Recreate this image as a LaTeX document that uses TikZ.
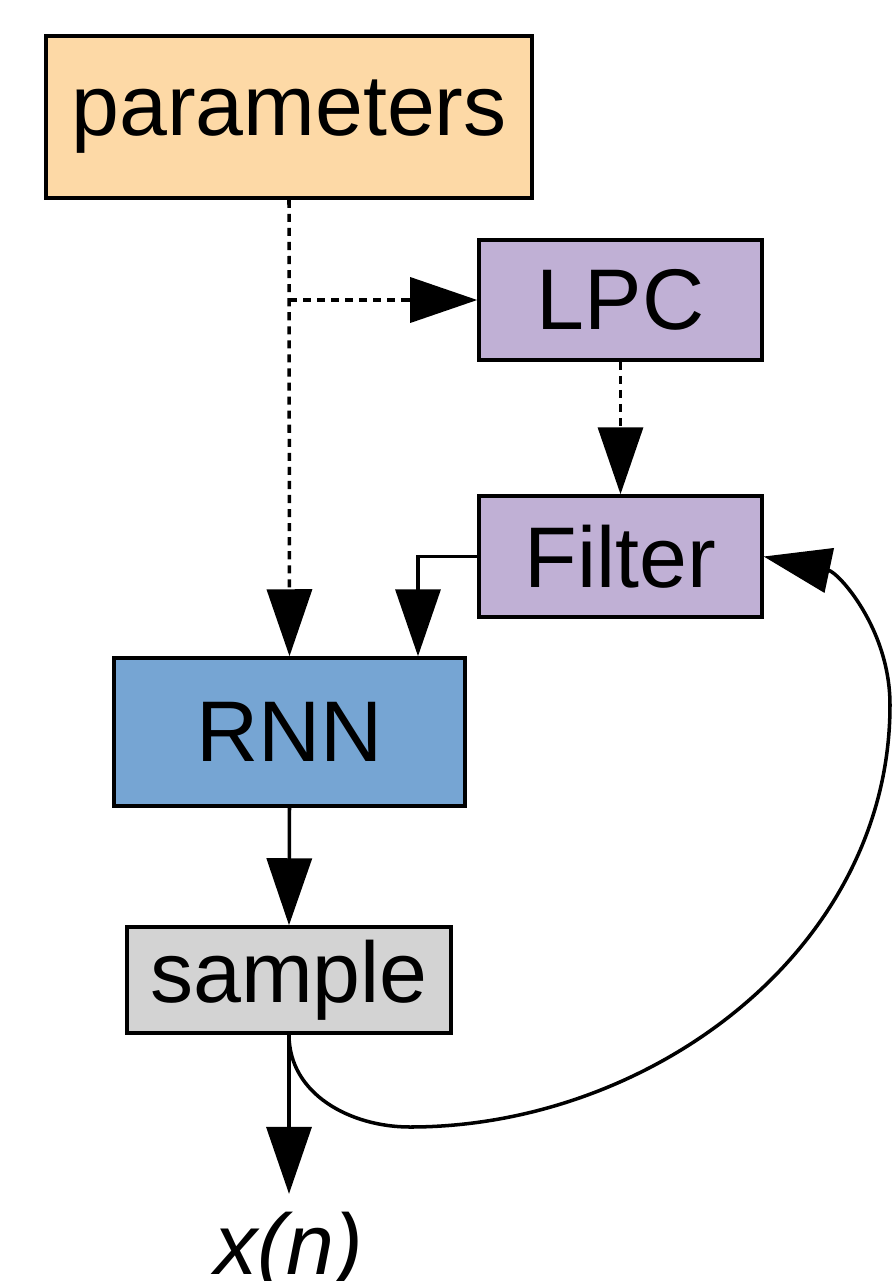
\documentclass[tikz,border=0pt]{standalone}
\usepackage{fontspec}
\setmainfont{Liberation Sans}
\usetikzlibrary{arrows.meta}
\definecolor{paramorange}{RGB}{253,217,166}
\definecolor{lpcpurple}{RGB}{192,176,213}
\definecolor{rnnblue}{RGB}{118,165,211}
\definecolor{samplegray}{RGB}{211,211,211}
\begin{document}
\begin{tikzpicture}[line width=1pt,>={Triangle[length=6.7mm,width=4.5mm]},
	box/.style={draw=black,line width=1pt,inner sep=0pt,font=\fontsize{24.5}{29}\selectfont},
	dotline/.style={dash pattern=on 2.3pt off 1.7pt}]
	\useasboundingbox (0,0) rectangle (8.92,-12.81);
	\node[box,fill=paramorange,minimum width=4.86cm,minimum height=1.62cm] (params) at (2.89,-1.17) {parameters};
	\node[box,fill=lpcpurple,minimum width=2.83cm,minimum height=1.20cm] (lpc) at (6.205,-3.0) {LPC};
	\node[box,fill=lpcpurple,minimum width=2.83cm,minimum height=1.21cm] (filter) at (6.205,-5.565) {Filter};
	\node[box,fill=rnnblue,minimum width=3.51cm,minimum height=1.48cm] (rnn) at (2.895,-7.32) {RNN};
	\node[box,fill=samplegray,minimum width=3.24cm,minimum height=1.06cm] (sample) at (2.89,-9.80) {sample};
	\node[inner sep=1.6mm,anchor=base,font=\fontsize{24.5}{29}\selectfont\itshape] (xn) at (2.89,-12.74) {x(n)};
	% feature paths
	\draw[dotline,->] (params.south) -- (rnn.north);
	\draw[dotline,->] (params.south |- lpc.west) -- (lpc.west);
	\draw[dotline,->] (lpc.south) -- (filter.north);
	\coordinate (rnnin) at ([xshift=12.85mm]rnn.north);
	\draw[->] (filter.west) -| (rnnin);
	\draw[->] (rnn.south) -- (sample.north);
	\draw[->] (sample.south) -- (xn.north);
	% feedback
	\coordinate (low) at (4.1,-11.27);
	\coordinate (bend) at (8.9,-7.05);
	\draw[->] (sample.south) to[out=-90,in=180] (low) .. controls (6.5,-11.27) and (8.9,-9.5) .. (bend) to[out=90,in=-12] (filter.east);
\end{tikzpicture}
\end{document}
